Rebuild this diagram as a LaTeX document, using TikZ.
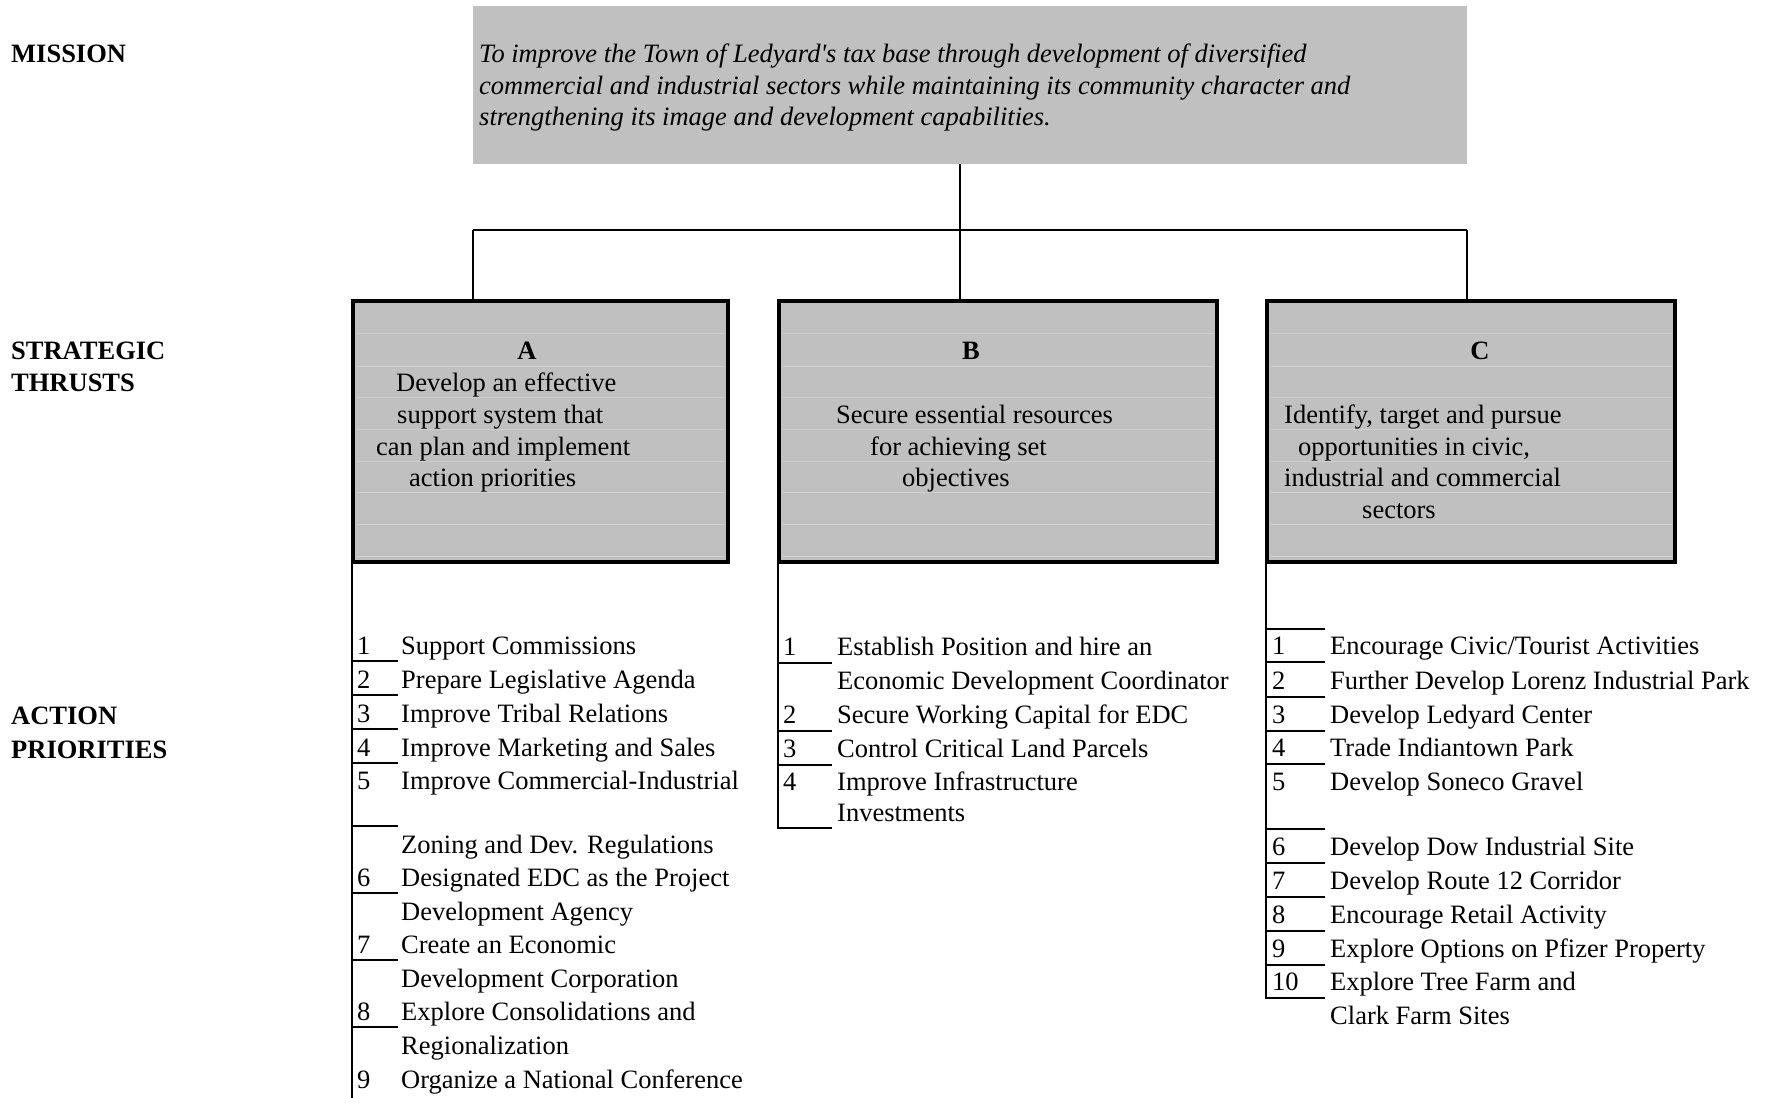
\documentclass[tikz,border=0pt]{standalone}
\usepackage{fontspec}
\setmainfont{Liberation Serif}
\definecolor{boxgray}{HTML}{C0C0C0}
\definecolor{gridgray}{HTML}{CFCFCF}
\begin{document}
\begin{tikzpicture}[x=1pt,y=-1pt,
  txt/.style={anchor=base west, inner sep=0pt, font=\fontsize{26.5}{32}\selectfont},
  lbl/.style={anchor=base west, inner sep=0pt, font=\fontsize{26.5}{32}\selectfont\bfseries},
  ttl/.style={anchor=base, inner sep=0pt, font=\fontsize{26.5}{32}\selectfont\bfseries},
  mis/.style={anchor=base west, inner sep=0pt, font=\fontsize{26.5}{32}\selectfont\itshape},
  thrust/.style={draw=black, line width=4pt, fill=boxgray, inner sep=0pt, outer sep=0pt, anchor=north west},
  conn/.style={line width=2pt},
  rule/.style={line width=2pt},
  grid/.style={draw=gridgray, line width=1pt}]
\useasboundingbox (0,0) rectangle (1773,1098);

% mission box
\node[fill=boxgray, inner sep=0pt, outer sep=0pt, anchor=north west, minimum width=994pt, minimum height=158pt] (mission) at (473,6) {};
\node[mis] (m1) at (479,62) {To improve the Town of Ledyard\textquotesingle s tax base through development of diversified};
\node[mis] (m2) at (479,94) {commercial and industrial sectors while maintaining its community character and};
\node[mis] (m3) at (479,125) {strengthening its image and development capabilities.};

% thrust boxes
\node[thrust, minimum width=375pt, minimum height=261pt] (ta) at (353,300.5) {};
\node[thrust, minimum width=438pt, minimum height=261pt] (tb) at (779,300.5) {};
\node[thrust, minimum width=408pt, minimum height=261pt] (tc) at (1267,300.5) {};

% faint cell grid lines inside thrust boxes
\foreach \y in {333,366,397,429,461,492,524,556} {
  \draw[grid] (357,\y) -- (725,\y);
  \draw[grid] (783,\y) -- (1214,\y);
  \draw[grid] (1271,\y) -- (1672,\y);
}

% connectors
\coordinate (drop) at (960,164);
\coordinate (bus) at (960,230);
\draw[conn] (drop) -- (drop |- tb.north);
\draw[conn] (mission.south west |- bus) -- (mission.south east |- bus);
\draw[conn] (mission.south west |- bus) -- (mission.south west |- ta.north);
\draw[conn] (mission.south east |- bus) -- (mission.south east |- tc.north);

% left labels
\node[lbl] (lmission) at (11,62) {MISSION};
\node[lbl] (lst1) at (11,359) {STRATEGIC};
\node[lbl] (lst2) at (11,391) {THRUSTS};
\node[lbl] (lap1) at (11,724) {ACTION};
\node[lbl] (lap2) at (11,758) {PRIORITIES};

% thrust texts
\node[ttl] (tat) at (527,359) {A};
\node[txt] (ta1) at (396,391) {Develop an effective};
\node[txt] (ta2) at (397,423) {support system that};
\node[txt] (ta3) at (376,455) {can plan and implement};
\node[txt] (ta4) at (409,486) {action priorities};

\node[ttl] (tbt) at (971,359) {B};
\node[txt] (tb1) at (836,423) {Secure essential resources};
\node[txt] (tb2) at (870,455) {for achieving set};
\node[txt] (tb3) at (902,486) {objectives};

\node[ttl] (tct) at (1480,359) {C};
\node[txt] (tc1) at (1284,423) {Identify, target and pursue};
\node[txt] (tc2) at (1298,455) {opportunities in civic,};
\node[txt] (tc3) at (1284,486) {industrial and commercial};
\node[txt] (tc4) at (1362,518) {sectors};

% list A
\draw[rule] (352,562) -- (352,1098);
\foreach \y in {661,695,729,763,826,893,960,1027} \draw[rule] (352,\y) -- (398,\y);
\node[txt] (an1) at (357,654) {1};  \node[txt] (a1) at (401,654) {Support Commissions};
\node[txt] (an2) at (357,688) {2};  \node[txt] (a2) at (401,688) {Prepare Legislative Agenda};
\node[txt] (an3) at (357,722) {3};  \node[txt] (a3) at (401,722) {Improve Tribal Relations};
\node[txt] (an4) at (357,756) {4};  \node[txt] (a4) at (401,756) {Improve Marketing and Sales};
\node[txt] (an5) at (357,789) {5};  \node[txt] (a5) at (401,789) {Improve Commercial-Industrial};
\node[txt] (a5b) at (401,853) {Zoning and Dev. Regulations};
\node[txt] (an6) at (357,886) {6};  \node[txt] (a6) at (401,886) {Designated EDC as the Project};
\node[txt] (a6b) at (401,920) {Development Agency};
\node[txt] (an7) at (357,953) {7};  \node[txt] (a7) at (401,953) {Create an Economic};
\node[txt] (a7b) at (401,987) {Development Corporation};
\node[txt] (an8) at (357,1020) {8}; \node[txt] (a8) at (401,1020) {Explore Consolidations and};
\node[txt] (a8b) at (401,1054) {Regionalization};
\node[txt] (an9) at (357,1088) {9}; \node[txt] (a9) at (401,1088) {Organize a National Conference};

% list B
\draw[rule] (778,562) -- (778,829);
\foreach \y in {663,731,765,828} \draw[rule] (778,\y) -- (832,\y);
\node[txt] (bn1) at (783,655) {1}; \node[txt] (b1) at (837,655) {Establish Position and hire an};
\node[txt] (b1b) at (837,689) {Economic Development Coordinator};
\node[txt] (bn2) at (783,723) {2}; \node[txt] (b2) at (837,723) {Secure Working Capital for EDC};
\node[txt] (bn3) at (783,757) {3}; \node[txt] (b3) at (837,757) {Control Critical Land Parcels};
\node[txt] (bn4) at (783,790) {4}; \node[txt] (b4) at (837,790) {Improve Infrastructure};
\node[txt] (b4b) at (837,821) {Investments};

% list C
\draw[rule] (1266,562) -- (1266,999);
\foreach \y in {629,662,697,731,764,829,863,897,931,965,998} \draw[rule] (1266,\y) -- (1325,\y);
\node[txt] (cn1) at (1272,654) {1};   \node[txt] (c1) at (1330,654) {Encourage Civic/Tourist Activities};
\node[txt] (cn2) at (1272,689) {2};   \node[txt] (c2) at (1330,689) {Further Develop Lorenz Industrial Park};
\node[txt] (cn3) at (1272,723) {3};   \node[txt] (c3) at (1330,723) {Develop Ledyard Center};
\node[txt] (cn4) at (1272,756) {4};   \node[txt] (c4) at (1330,756) {Trade Indiantown Park};
\node[txt] (cn5) at (1272,790) {5};   \node[txt] (c5) at (1330,790) {Develop Soneco Gravel};
\node[txt] (cn6) at (1272,855) {6};   \node[txt] (c6) at (1330,855) {Develop Dow Industrial Site};
\node[txt] (cn7) at (1272,889) {7};   \node[txt] (c7) at (1330,889) {Develop Route 12 Corridor};
\node[txt] (cn8) at (1272,923) {8};   \node[txt] (c8) at (1330,923) {Encourage Retail Activity};
\node[txt] (cn9) at (1272,957) {9};   \node[txt] (c9) at (1330,957) {Explore Options on Pfizer Property};
\node[txt] (cn10) at (1272,990) {10}; \node[txt] (c10) at (1330,990) {Explore Tree Farm and};
\node[txt] (c10b) at (1330,1024) {Clark Farm Sites};
\end{tikzpicture}
\end{document}
